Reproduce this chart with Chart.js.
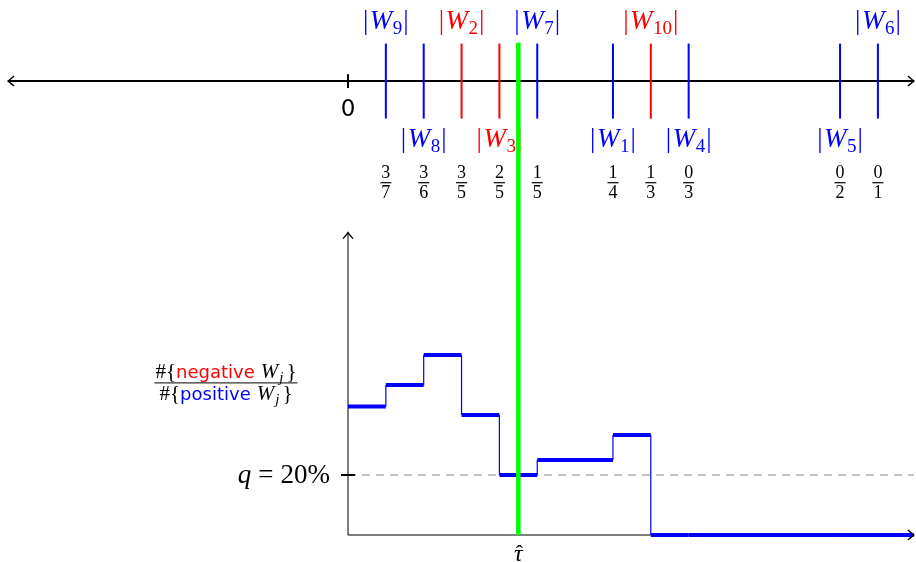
<!DOCTYPE html>
<html>
<head>
<meta charset="utf-8">
<script src="https://cdn.jsdelivr.net/npm/chart.js@4.4.1/dist/chart.umd.min.js"></script>
<style>
  html, body { margin: 0; padding: 0; background: #fff; }
  #chart { display: block; }
</style>
</head>
<body>
<canvas id="chart" width="916" height="562"></canvas>
<script>
// --- data ---
const wAbs = [1, 2, 3, 4, 5, 7, 8, 9, 13, 14];      // |W_j| sorted
const wIndex = [9, 8, 2, 3, 7, 1, 10, 4, 5, 6];     // j
const wNegative = [false, false, true, true, false, false, true, false, false, false];
const negCount = [3, 3, 3, 2, 1, 1, 1, 0, 0, 0];
const posCount = [7, 6, 5, 5, 5, 4, 3, 3, 2, 1];
const tauHat = 4.5;
const qLevel = 0.2;
const qLabel = '20%';

// --- layout ---
const labelAbove = [true, false, true, false, true, false, true, false, false, true];
const X_MIN = -348 / 37.85, X_MAX = X_MIN + 916 / 37.85;
const Y_MIN = -27 / 300, Y_MAX = 535 / 300;
const LINE_Y = 1.513;          // number line level (in y units)
const TICK_HALF = 0.125;
const LINE_LEFT = -8.98, LINE_RIGHT = 14.95;
const Y_AXIS_TOP = 1.008;

const BLUE = '#0000ff', RED = '#ff0000', GREEN = '#00ff00';
const SERIF = '"Liberation Serif", "DejaVu Serif", serif';
const SANS = '"DejaVu Sans", "Liberation Sans", sans-serif';

const ratios = negCount.map((n, i) => n / posCount[i]);

// step function points: value on (w_{k-1}, w_k] is ratio at w_k
const stepPts = [];
let prev = 0;
wAbs.forEach((w, i) => {
    stepPts.push({ x: prev, y: ratios[i] }, { x: w, y: ratios[i] });
    prev = w;
});
stepPts.push({ x: LINE_RIGHT, y: ratios[ratios.length - 1] });

const seg = (pts, color, width, extra) => Object.assign({
    data: pts, borderColor: color, borderWidth: width,
    showLine: true, pointRadius: 0, fill: false, tension: 0
}, extra || {});

const datasets = [
    seg([{ x: tauHat, y: 0 }, { x: tauHat, y: LINE_Y + TICK_HALF + 0.003 }], GREEN, 4.5),
    ...wAbs.map((w, i) => seg([{ x: w, y: LINE_Y - TICK_HALF }, { x: w, y: LINE_Y + TICK_HALF }],
        wNegative[i] ? RED : BLUE, 2)),
    seg([{ x: LINE_LEFT, y: LINE_Y }, { x: LINE_RIGHT, y: LINE_Y }], '#000', 2),
    seg([{ x: 0, y: LINE_Y - 0.023 }, { x: 0, y: LINE_Y + 0.023 }], '#000', 2),
    seg(stepPts, BLUE, 4, {
        segment: { borderWidth: c => c.p0.parsed.x === c.p1.parsed.x ? 1.2 : 4 }
    }),
    seg([{ x: -0.185, y: qLevel }, { x: 0.185, y: qLevel }], '#000', 2),
    seg([{ x: 0, y: qLevel }, { x: LINE_RIGHT, y: qLevel }], '#b0b0b0', 1.5, { borderDash: [8, 6] }),
    seg([{ x: 0, y: 0 }, { x: LINE_RIGHT, y: 0 }], '#000', 1.2),
    seg([{ x: 0, y: 0 }, { x: 0, y: Y_AXIS_TOP }], '#707070', 1.8)
];

// draw a row of text pieces, each with its own font / colour / baseline shift
function drawRuns(ctx, runs, x, baseline, align) {
    let total = 0;
    runs.forEach(r => { ctx.font = r.font; r.w = ctx.measureText(r.t).width + (r.gap || 0); total += r.w; });
    let cx = align === 'center' ? x - total / 2 : align === 'right' ? x - total : x;
    const left = cx;
    ctx.textAlign = 'left';
    ctx.textBaseline = 'alphabetic';
    runs.forEach(r => {
        ctx.font = r.font;
        ctx.fillStyle = r.color || '#000';
        ctx.fillText(r.t, cx, baseline + (r.dy || 0));
        cx += r.w;
    });
    return { left, right: left + total };
}

function chevron(ctx, x, y, angle) {
    ctx.save();
    ctx.translate(x, y);
    ctx.rotate(angle);
    ctx.strokeStyle = '#000';
    ctx.lineWidth = 1.4;
    ctx.beginPath();
    ctx.moveTo(-6, -5);
    ctx.quadraticCurveTo(-1.5, -1, 0, 0);
    ctx.quadraticCurveTo(-1.5, 1, -6, 5);
    ctx.stroke();
    ctx.restore();
}

const textPlugin = {
    id: 'texts',
    beforeDatasetsDraw(chart) {
        const ctx = chart.ctx;
        const sx = chart.scales.x, sy = chart.scales.y;
        const yl = sy.getPixelForValue(LINE_Y);
        ctx.save();

        // |W_j| labels
        wAbs.forEach((w, i) => {
            const px = sx.getPixelForValue(w);
            const color = wNegative[i] ? RED : BLUE;
            const base = labelAbove[i] ? yl - 52 : yl + 66;
            drawRuns(ctx, [
                { t: '|', font: '27px ' + SERIF, color, gap: 1.5 },
                { t: 'W', font: 'italic 27px ' + SERIF, color, gap: 0.5 },
                { t: String(wIndex[i]), font: '19px ' + SERIF, color, dy: 5, gap: 1 },
                { t: '|', font: '27px ' + SERIF, color }
            ], px, base, 'center');

            // fraction below
            ctx.font = '18px ' + SERIF;
            ctx.fillStyle = '#000';
            ctx.textAlign = 'center';
            ctx.fillText(String(negCount[i]), px, yl + 97);
            ctx.fillText(String(posCount[i]), px, yl + 117);
            ctx.fillRect(px - 5.5, yl + 101, 11, 1.2);
        });

        // zero label
        ctx.font = '23px ' + SANS;
        ctx.fillStyle = '#000';
        ctx.textAlign = 'center';
        ctx.fillText('0', sx.getPixelForValue(0), yl + 35);

        // y-axis label (fraction)
        const fx = 226, fy = sy.getPixelForValue(0.507);
        const parts = (word, color) => [
            { t: '#{', font: '21px ' + SERIF },
            { t: word, font: '18px ' + SANS, color, gap: 6 },
            { t: 'W', font: 'italic 21px ' + SERIF, gap: 1 },
            { t: 'j', font: 'italic 15px ' + SERIF, dy: 4, gap: 3 },
            { t: '}', font: '21px ' + SERIF }
        ];
        const num = drawRuns(ctx, parts('negative', RED), fx, fy - 5, 'center');
        const den = drawRuns(ctx, parts('positive', BLUE), fx, fy + 17, 'center');
        ctx.fillStyle = '#000';
        const bl = Math.min(num.left, den.left) - 1, br = Math.max(num.right, den.right) + 1;
        ctx.fillRect(bl, fy - 0.5, br - bl, 1);

        // q label
        drawRuns(ctx, [
            { t: 'q', font: 'italic 27px ' + SERIF, gap: 7 },
            { t: '=', font: '27px ' + SERIF, gap: 7 },
            { t: qLabel, font: '27px ' + SERIF }
        ], sx.getPixelForValue(0) - 18, sy.getPixelForValue(qLevel) + 8, 'right');

        // tau hat
        const tx = sx.getPixelForValue(tauHat);
        ctx.font = 'italic 24px ' + SERIF;
        ctx.textAlign = 'center';
        ctx.fillStyle = '#000';
        ctx.fillText('τ', tx, sy.getPixelForValue(0) + 26);
        ctx.font = '22px ' + SERIF;
        ctx.fillText('ˆ', tx + 1, sy.getPixelForValue(0) + 25);
        ctx.restore();
    },
    afterDatasetsDraw(chart) {
        const ctx = chart.ctx;
        const sx = chart.scales.x, sy = chart.scales.y;
        const yl = sy.getPixelForValue(LINE_Y);
        chevron(ctx, sx.getPixelForValue(LINE_RIGHT), yl, 0);
        chevron(ctx, sx.getPixelForValue(LINE_LEFT), yl, Math.PI);
        chevron(ctx, sx.getPixelForValue(LINE_RIGHT), sy.getPixelForValue(0), 0);
        chevron(ctx, sx.getPixelForValue(0), sy.getPixelForValue(Y_AXIS_TOP), -Math.PI / 2);
    }
};

new Chart(document.getElementById('chart'), {
    type: 'scatter',
    data: { datasets },
    options: {
        responsive: false,
        animation: false,
        layout: { padding: 0 },
        plugins: { legend: { display: false }, tooltip: { enabled: false } },
        scales: {
            x: { type: 'linear', min: X_MIN, max: X_MAX, display: false },
            y: { type: 'linear', min: Y_MIN, max: Y_MAX, display: false }
        }
    },
    plugins: [textPlugin]
});
</script>
</body>
</html>
